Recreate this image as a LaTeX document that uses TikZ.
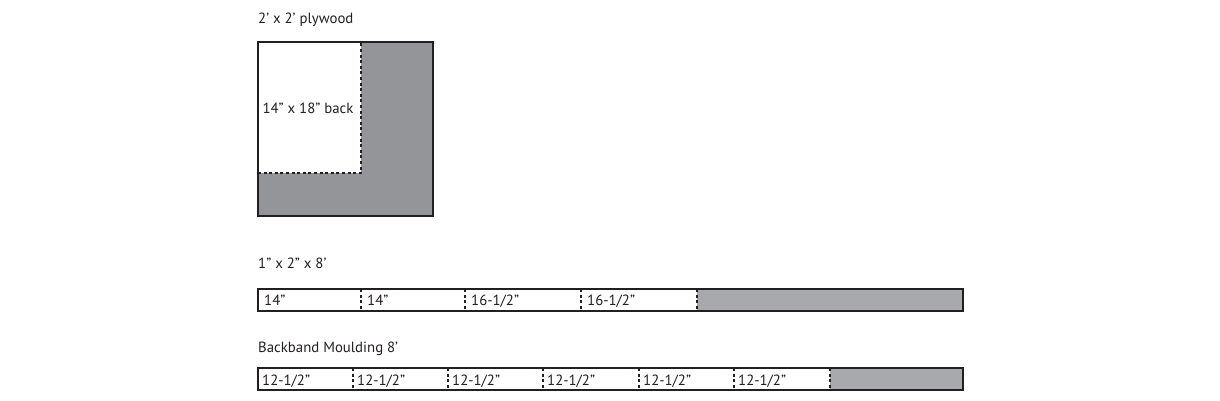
\documentclass[tikz,border=0pt]{standalone}
\usepackage{fontspec}
\setmainfont{PT Sans}
\definecolor{inkline}{HTML}{231F20}
\definecolor{plygray}{HTML}{939598}
\definecolor{boardgray}{HTML}{A7A9AC}
\tikzset{
  outline/.style={draw=inkline, line width=1.5pt},
  cutline/.style={draw=inkline, line width=1.3pt, dash pattern=on 3pt off 2.6pt},
  heading/.style={anchor=base west, inner sep=0pt, text=inkline, font=\fontsize{14.8}{17}\selectfont},
  seglabel/.style={anchor=base west, inner sep=0pt, text=inkline, font=\fontsize{14.8}{17}\selectfont}
}
\begin{document}
\begin{tikzpicture}[x=1pt,y=-1pt]
\useasboundingbox (0,0) rectangle (1220,400);

% plywood sheet
\fill[plygray] (258,42) rectangle (433,216);
\fill[white] (258,42) rectangle (361,173);
\draw[cutline] (258,173) -- (361,173) -- (361,42);
\draw[outline] (258,42) rectangle (433,216);
\node[heading] (plyhead) at (258,23) {2’ x 2’ plywood};
\node[heading, anchor=base] (back) at (308,113) {14” x 18” back};

% 1x2 board
\node[heading] (boardhead) at (258,268) {1” x 2” x 8’};
\fill[boardgray] (697,289) rectangle (963,311);
\foreach \cx in {361,465,581,697}
  \draw[cutline] (\cx,289) -- (\cx,311);
\draw[outline] (258,289) rectangle (963,311);
\foreach \cx/\lbl [count=\i] in {258/{14”},361/{14”},465/{16-1/2”},581/{16-1/2”}}
  \node[seglabel] (board\i) at (\cx+6,305) {\lbl};

% backband moulding
\node[heading] (bandhead) at (258,352) {Backband Moulding 8’};
\fill[boardgray] (830,368) rectangle (963,390);
\foreach \cx in {353,448,543,639,734,830}
  \draw[cutline] (\cx,368) -- (\cx,390);
\draw[outline] (258,368) rectangle (963,390);
\foreach \cx [count=\i] in {258,353,448,543,639,734}
  \node[seglabel] (band\i) at (\cx+4,385) {12-1/2”};
\end{tikzpicture}
\end{document}
